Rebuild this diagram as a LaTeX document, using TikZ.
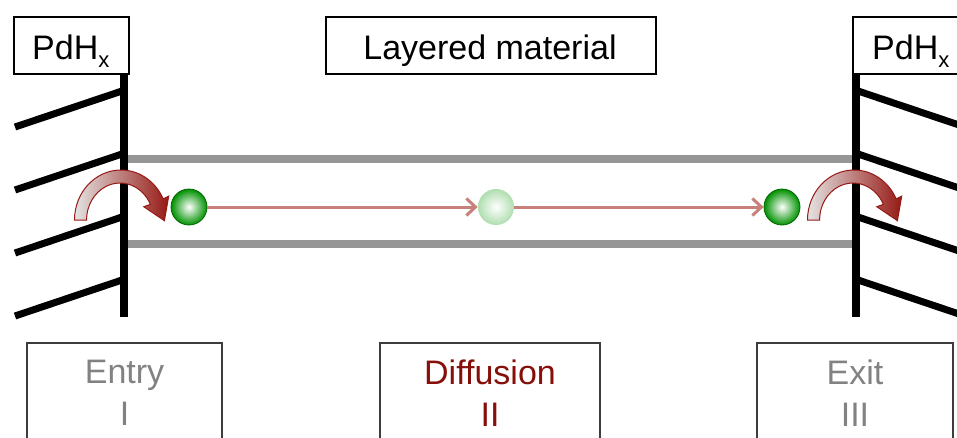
\documentclass[tikz,border=0pt]{standalone}
\usepackage{fontspec}
\setmainfont{Liberation Sans}
\usetikzlibrary{arrows.meta}
\definecolor{flowc}{RGB}{199,128,122}
\definecolor{curlred}{RGB}{150,25,20}
\definecolor{layergray}{RGB}{150,150,150}
\definecolor{diffred}{RGB}{135,15,10}
\definecolor{stepgray}{RGB}{130,130,130}
\definecolor{stepframe}{RGB}{60,60,60}
\definecolor{ballgreen}{RGB}{0,145,0}
\definecolor{ballrim}{RGB}{0,100,0}
\definecolor{ballpale}{RGB}{175,222,175}
\begin{document}
\begin{tikzpicture}[x=1pt,y=-1pt,
  lbl/.style={font=\fontsize{34}{42}\selectfont, inner sep=0pt},
  topbox/.style={draw=black, line width=1.6pt, fill=white, inner sep=0pt, anchor=north west, minimum height=57pt},
  stepbox/.style={draw=stepframe, line width=1.5pt, anchor=north, align=center, inner xsep=0pt, inner ysep=17.5pt, font=\fontsize{34}{42}\selectfont},
  wall/.style={draw=black, line width=8pt},
  hatch/.style={draw=black, line width=7pt},
  layer/.style={draw=layergray, line width=8.5pt},
  ball/.style={circle, minimum size=36pt, inner sep=0pt, line width=0.8pt},
  flow/.style={draw=flowc, line width=3pt, -{Straight Barb[length=9pt,width=17pt]}},
  curl/.style={draw=curlred, line width=1pt, left color=gray!22, right color=curlred},
]
\useasboundingbox (0,0) rectangle (957,437);
\clip (0,0) rectangle (957,437);

% layer boundaries
\draw[layer] (128,159) -- (852,159);
\draw[layer] (128,244) -- (852,244);

% hatching
\foreach \k in {0,1,2,3} {
  \draw[hatch] (15,{127+63*\k}) -- (122,{91+63*\k});
  \draw[hatch] (858,{91+63*\k}) -- (965,{127+63*\k});
}
% walls
\draw[wall] (124,73) -- (124,317);
\draw[wall] (856,73) -- (856,317);

% top boxes
\node[topbox, minimum width=115pt] (pdleft) at (13,16) {};
\node[lbl, anchor=base west] (pdlefttext) at (32,59) {PdH\raisebox{-8pt}{\fontsize{22}{22}\selectfont x}};
\node[topbox, minimum width=330pt] (layerbox) at (325,16) {};
\node[lbl, anchor=base] (layertext) at (490,59) {Layered material};
\node[topbox, minimum width=130pt] (pdright) at (852,16) {};
\node[lbl, anchor=base west] (pdrighttext) at (872,59) {PdH\raisebox{-8pt}{\fontsize{22}{22}\selectfont x}};

% curled arrows
\path[curl] (74.5,220) arc[start angle=180, end angle=335, x radius=46.5, y radius=50]
  -- (168.7,196.1) -- (164.4,220.7) -- (143.8,206.7) -- (150.4,204.4)
  arc[start angle=335, end angle=180, x radius=33.5, y radius=37] -- cycle;
\begin{scope}[shift={(733,0)}]
\path[curl] (74.5,220) arc[start angle=180, end angle=335, x radius=46.5, y radius=50]
  -- (168.7,196.1) -- (164.4,220.7) -- (143.8,206.7) -- (150.4,204.4)
  arc[start angle=335, end angle=180, x radius=33.5, y radius=37] -- cycle;
\end{scope}

% hydrogen atoms
\node[ball, draw=ballrim, inner color=white, outer color=ballgreen] (b1) at (189,207) {};
\node[ball, draw=none, inner color=white, outer color=ballpale] (b2) at (496,207) {};
\node[ball, draw=ballrim, inner color=white, outer color=ballgreen] (b3) at (782,207) {};
\draw[flow] (b1) -- (b2);
\draw[flow] (b2) -- (b3);

% step boxes
\node[stepbox, text=stepgray, minimum width=195pt] (entry) at (124.5,342) {Entry\\I};
\node[stepbox, text=diffred, minimum width=220pt] (diffusion) at (490,342) {Diffusion\\II};
\node[stepbox, text=stepgray, minimum width=196pt] (exit) at (855,342) {Exit\\III};
\end{tikzpicture}
\end{document}
